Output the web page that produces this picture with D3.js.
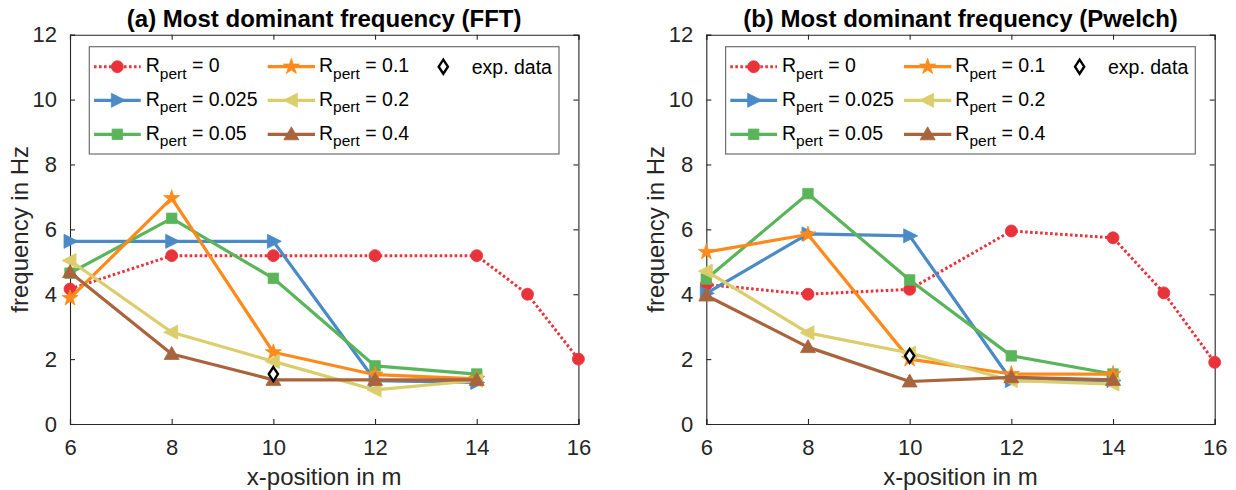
<!DOCTYPE html>
<html><head><meta charset="utf-8">
<script src="https://cdn.jsdelivr.net/npm/d3@7"></script>
<style>body{margin:0;background:#fff;} svg{display:block;font-family:"Liberation Sans",Arial,Helvetica,sans-serif;}</style>
</head><body><svg id="c" width="1236" height="490"></svg>
<script>
// ---------- data ----------
const xSim = [6, 8, 10, 12, 14];
const xRef = [6, 8, 10, 12, 14, 15, 16];
const xExp = [10];
const xTicks = [6, 8, 10, 12, 14, 16];
const yTicks = [0, 2, 4, 6, 8, 10, 12];
const rpertLabels = ["0", "0.025", "0.05", "0.1", "0.2", "0.4"];
const titles = ["(a) Most dominant frequency (FFT)", "(b) Most dominant frequency (Pwelch)"];
const xLabel = "x-position in m";
const yLabel = "frequency in Hz";
const expLabel = "exp. data";

// (a) FFT
const fftR0    = [4.16, 5.19, 5.19, 5.19, 5.19, 4.0, 2.0];
const fftR0025 = [5.63, 5.63, 5.63, 1.34, 1.28];
const fftR005  = [4.65, 6.34, 4.49, 1.79, 1.54];
const fftR01   = [3.88, 6.96, 2.21, 1.52, 1.39];
const fftR02   = [5.04, 2.83, 1.93, 1.05, 1.34];
const fftR04   = [4.68, 2.16, 1.36, 1.36, 1.36];
const fftExp   = [1.54];
// (b) Pwelch
const pwR0    = [4.30, 4.00, 4.15, 5.95, 5.74, 4.04, 1.90];
const pwR0025 = [4.03, 5.86, 5.80, 1.34, 1.34];
const pwR005  = [4.47, 7.10, 4.44, 2.10, 1.54];
const pwR01   = [5.30, 5.84, 2.00, 1.54, 1.54];
const pwR02   = [4.71, 2.81, 2.19, 1.34, 1.23];
const pwR04   = [3.96, 2.37, 1.31, 1.44, 1.36];
const pwExp   = [2.10];

// ---------- styles ----------
const colors = ["#e8333a", "#4a8ac6", "#5ab55a", "#ff8a1c", "#dccd6c", "#a8643c"];
const markers = ["circle", "triRight", "square", "star", "triLeft", "triUp"];

function markerPath(type) {
  switch (type) {
    case "circle": return d3.symbol(d3.symbolCircle, 113)();
    case "square": return d3.symbol(d3.symbolSquare, 110)();
    case "star": return d3.symbol(d3.symbolStar, 80)();
    case "triRight": return "M-6,-7L8,0L-6,7Z";
    case "triLeft": return "M6,-7L-8,0L6,7Z";
    case "triUp": return "M0,-7.5L7.5,5.5L-7.5,5.5Z";
    case "diamond": return "M0,-7L4.6,0L0,7L-4.6,0Z";
  }
}

const svg = d3.select("#c");

function drawPanel(left, title, ys, expY) {
  const x0 = left, x1 = left + 508.4, yTop = 34.7, yBot = 424;
  const x = d3.scaleLinear().domain([6, 16]).range([x0, x1]);
  const y = d3.scaleLinear().domain([0, 12]).range([yBot, yTop]);
  const g = svg.append("g");

  // axes (box with inward ticks)
  const axisCol = "#262626";
  g.append("g").attr("transform", `translate(0,${yBot})`)
    .call(d3.axisBottom(x).tickValues(xTicks).tickSize(-5).tickPadding(15).tickFormat(d3.format("d")));
  g.append("g").attr("transform", `translate(0,${yTop})`)
    .call(d3.axisTop(x).tickValues(xTicks).tickSize(-5).tickFormat(""));
  g.append("g").attr("transform", `translate(${x0},0)`)
    .call(d3.axisLeft(y).tickValues(yTicks).tickSize(-5).tickPadding(13).tickFormat(d3.format("d")));
  g.append("g").attr("transform", `translate(${x1},0)`)
    .call(d3.axisRight(y).tickValues(yTicks).tickSize(-5).tickFormat(""));
  g.selectAll(".domain").attr("stroke", axisCol).attr("stroke-width", 1.1);
  g.selectAll(".tick line").attr("stroke", axisCol).attr("stroke-width", 1.1);
  g.selectAll(".tick text").attr("fill", "#262626").style("font-size", "22px")
    .style("font-family", '"Liberation Sans",Arial,sans-serif');

  // title & labels
  g.append("text").attr("x", (x0 + x1) / 2).attr("y", 27).attr("text-anchor", "middle")
    .style("font-size", "24px").style("font-weight", "bold").attr("fill", "#000").text(title);
  g.append("text").attr("x", (x0 + x1) / 2).attr("y", 485).attr("text-anchor", "middle")
    .style("font-size", "24px").attr("fill", "#262626").text(xLabel);
  g.append("text").attr("transform", `translate(${x0 - 42},${(yTop + yBot) / 2}) rotate(-90)`)
    .attr("text-anchor", "middle").style("font-size", "24px").attr("fill", "#262626").text(yLabel);

  // series
  const line = d3.line().x(d => x(d[0])).y(d => y(d[1]));
  ys.forEach((vals, i) => {
    const xv = i === 0 ? xRef : xSim;
    const pts = vals.map((v, k) => [xv[k], v]);
    g.append("path").datum(pts).attr("d", line).attr("fill", "none")
      .attr("stroke", colors[i]).attr("stroke-width", i === 0 ? 3 : 3.2)
      .attr("stroke-dasharray", i === 0 ? "2.6,2.4" : null)
      .attr("stroke-linejoin", "round");
    g.selectAll(null).data(pts).enter().append("path")
      .attr("d", markerPath(markers[i]))
      .attr("transform", d => `translate(${x(d[0])},${y(d[1])})`)
      .attr("fill", colors[i]).attr("stroke", colors[i]).attr("stroke-width", 0.8);
  });
  // experimental
  g.selectAll(null).data(expY.map((v, k) => [xExp[k], v])).enter().append("path")
    .attr("d", markerPath("diamond"))
    .attr("transform", d => `translate(${x(d[0])},${y(d[1])})`)
    .attr("fill", "#fff").attr("stroke", "#000").attr("stroke-width", 2.4);

  // legend
  const lx = x0 + 19.3, ly = yTop + 12;
  const lg = g.append("g");
  lg.append("rect").attr("x", lx).attr("y", ly).attr("width", 469.7).attr("height", 107.3)
    .attr("fill", "#fff").attr("stroke", "#6e6e6e").attr("stroke-width", 1.2);
  const rowY = [66.7, 100.3, 134.3];
  const cols = [{ l0: 4.7, l1: 51.4, t: 56.4 }, { l0: 178.4, l1: 225.7, t: 229.7 }];
  rpertLabels.forEach((lab, i) => {
    const c = cols[Math.floor(i / 3)], ry = rowY[i % 3];
    const ax = lx + c.l0, bx = lx + c.l1;
    lg.append("line").attr("x1", ax).attr("x2", bx).attr("y1", ry).attr("y2", ry)
      .attr("stroke", colors[i]).attr("stroke-width", i === 0 ? 3 : 3.2)
      .attr("stroke-dasharray", i === 0 ? "2.6,2.4" : null);
    lg.append("path").attr("d", markerPath(markers[i]))
      .attr("transform", `translate(${(ax + bx) / 2},${ry})`)
      .attr("fill", colors[i]).attr("stroke", colors[i]).attr("stroke-width", 0.8);
    const t = lg.append("text").attr("x", lx + c.t).attr("y", ry + 5.5)
      .style("font-size", "19.5px").attr("fill", "#000");
    t.append("tspan").text("R");
    t.append("tspan").attr("dy", 6.5).style("font-size", "15.5px").text("pert");
    t.append("tspan").attr("dy", -6.5).text(" = " + lab);
  });
  lg.append("path").attr("d", markerPath("diamond"))
    .attr("transform", `translate(${lx + 354},${rowY[0]})`)
    .attr("fill", "#fff").attr("stroke", "#000").attr("stroke-width", 2.4);
  lg.append("text").attr("x", lx + 382.4).attr("y", rowY[0] + 7)
    .style("font-size", "19.5px").attr("fill", "#000").text(expLabel);
}

drawPanel(70, titles[0], [fftR0, fftR0025, fftR005, fftR01, fftR02, fftR04], fftExp);
drawPanel(706.3, titles[1], [pwR0, pwR0025, pwR005, pwR01, pwR02, pwR04], pwExp);
</script></body></html>
